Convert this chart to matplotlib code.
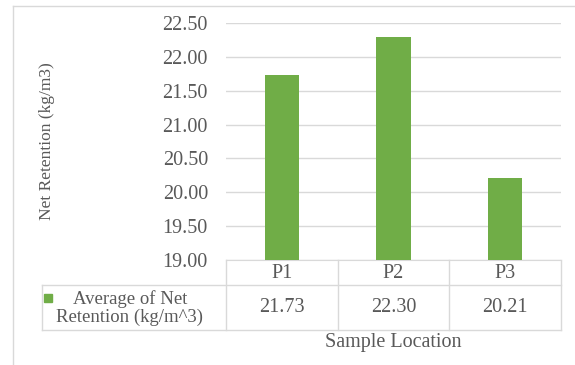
import numpy as np
import matplotlib.pyplot as plt
from matplotlib.lines import Line2D

# Data
locations = ['P1', 'P2', 'P3']
net_retention = [21.73, 22.30, 20.21]
series_name = 'Average of Net\nRetention (kg/m^3)'
y_ticks = [19.00, 19.50, 20.00, 20.50, 21.00, 21.50, 22.00, 22.50]

W, H = 575, 365
text_color = '#595959'
line_color = '#d9d9d9'
bar_color = '#70ad47'
fs = 14.5

plt.rcParams['font.family'] = ['Liberation Serif', 'DejaVu Serif']

fig = plt.figure(figsize=(W / 100, H / 100), dpi=100)


def fx(px):
    return px / W


def fy(py):
    return 1 - py / H


# plot area in pixel coordinates
left, right, top, bottom = 226, 561, 23, 260
ax = fig.add_axes([fx(left), fy(bottom), fx(right) - fx(left), fy(top) - fy(bottom)])

x = np.arange(len(locations))
ax.bar(x, net_retention, width=0.31, color=bar_color, zorder=3)
ax.set_xlim(-0.5, len(locations) - 0.5)
ax.set_ylim(19, 22.5)
ax.set_yticks(y_ticks)
ax.set_yticklabels([f'{t:.2f}' for t in y_ticks], color=text_color, fontsize=fs)
ax.set_xticks([])
ax.tick_params(axis='y', length=0, pad=13)
ax.yaxis.grid(True, color=line_color, lw=1)
ax.set_axisbelow(True)
for side in ['left', 'right', 'top']:
    ax.spines[side].set_visible(False)
ax.spines['bottom'].set_color(line_color)

fig.text(fx(47), fy(141), 'Net Retention (kg/m3)', rotation=90, ha='center', va='center',
         color=text_color, fontsize=12.5)


def hline(y, x0, x1):
    fig.add_artist(Line2D([fx(x0), fx(x1)], [fy(y), fy(y)], color=line_color, lw=1,
                          transform=fig.transFigure))


def vline(xp, y0, y1):
    fig.add_artist(Line2D([fx(xp), fx(xp)], [fy(y0), fy(y1)], color=line_color, lw=1,
                          transform=fig.transFigure))


# data table below the axis
row1, row2, row3 = 260, 285, 330
col = (right - left) / len(locations)
for i in range(len(locations) + 1):
    vline(left + i * col, row1, row3)
vline(42, row2, row3)
hline(row2, 42, right)
hline(row3, 42, right)

for i, (loc, val) in enumerate(zip(locations, net_retention)):
    cx = fx(left + (i + 0.5) * col)
    fig.text(cx, fy(273), loc, ha='center', va='center', color=text_color, fontsize=fs)
    fig.text(cx, fy(308), f'{val:.2f}', ha='center', va='center', color=text_color, fontsize=fs)

# legend key and series name
fig.add_artist(plt.Rectangle((fx(44), fy(302)), fx(8), 8 / H, color=bar_color,
                             transform=fig.transFigure))
fig.text(fx(130), fy(308), series_name, ha='center', va='center', color=text_color,
         fontsize=13.5, linespacing=1.05)

fig.text(fx(393), fy(343), 'Sample Location', ha='center', va='center', color=text_color,
         fontsize=fs)

# outer chart border
hline(6, 13, W)
vline(13, 6, H)

fig.savefig('out.png', dpi=100)
